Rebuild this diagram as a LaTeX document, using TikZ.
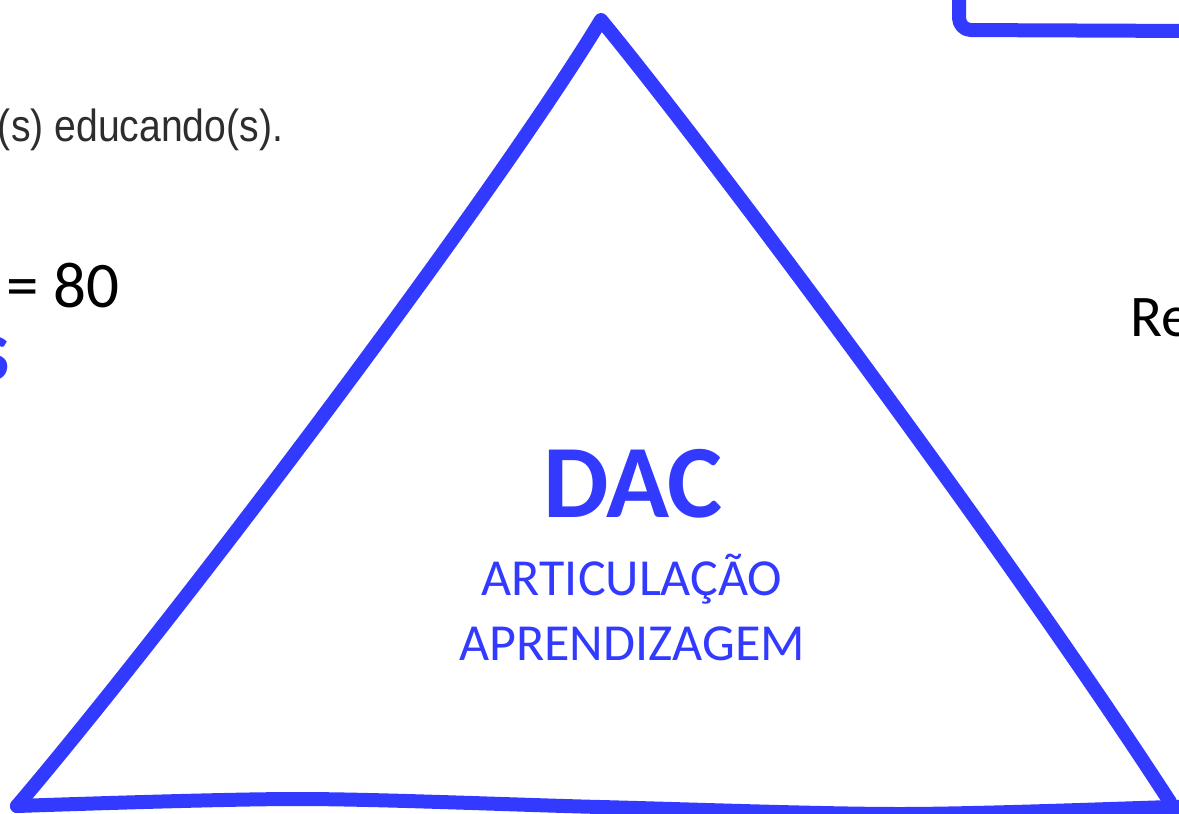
\documentclass[tikz,border=0pt]{standalone}
\usepackage{fontspec}
\usepackage{graphicx}
\setmainfont{Carlito}
\newfontfamily\arialfont{Liberation Sans}
\definecolor{dacblue}{RGB}{51,58,255}
\definecolor{txtgray}{RGB}{45,45,45}
\begin{document}
\begin{tikzpicture}[x=1pt,y=-1pt,
  bluestroke/.style={draw=dacblue,line width=14pt,line cap=round,line join=round},
  lbl/.style={inner sep=0pt,outer sep=0pt}]
\useasboundingbox (0,0) rectangle (1179,814);
\clip (0,0) rectangle (1179,814);
% corners of the hand-drawn triangle
\coordinate (apex) at (601,20);
\coordinate (bl) at (17,806);
\coordinate (br) at (1170,802);
% triangle sides
\draw[bluestroke] (bl) .. controls (175,620) and (495,195) .. (apex)
  .. controls (700,140) and (1000,540) .. (br);
% base
\draw[bluestroke] plot[smooth] coordinates {(bl) (300,799) (600,807) (900,814) (1172,807) (1195,806)};
% box fragment top right
\coordinate (boxtop) at (959,-20);
\coordinate (boxcorner) at (959,30);
\coordinate (boxright) at (1195,31);
\draw[bluestroke,rounded corners=12pt] (boxtop) -- (boxcorner) -- (boxright);
% texts
\node[lbl,anchor=base west,text=txtgray] (educ) at (-2,141)
  {\scalebox{0.87}[1]{\fontsize{45}{50}\arialfont (s) educando(s).}};
\node[lbl,anchor=base west] (eq) at (6,307) {\fontsize{65}{70}\selectfont = 80};
\node[lbl,anchor=base east,text=dacblue] (sfrag) at (10,380) {\fontsize{89}{90}\selectfont\bfseries s};
\node[lbl,anchor=base west] (re) at (1130,336) {\fontsize{59}{64}\selectfont Re};
\node[lbl,anchor=base,text=dacblue] (dac) at (633,517) {\fontsize{104}{110}\selectfont\bfseries DAC};
\node[lbl,anchor=base,text=dacblue] (artic) at (632,595) {\fontsize{52}{56}\selectfont ARTICULAÇÃO};
\node[lbl,anchor=base,text=dacblue] (aprend) at (632,660) {\fontsize{52}{56}\selectfont APRENDIZAGEM};
\end{tikzpicture}
\end{document}
